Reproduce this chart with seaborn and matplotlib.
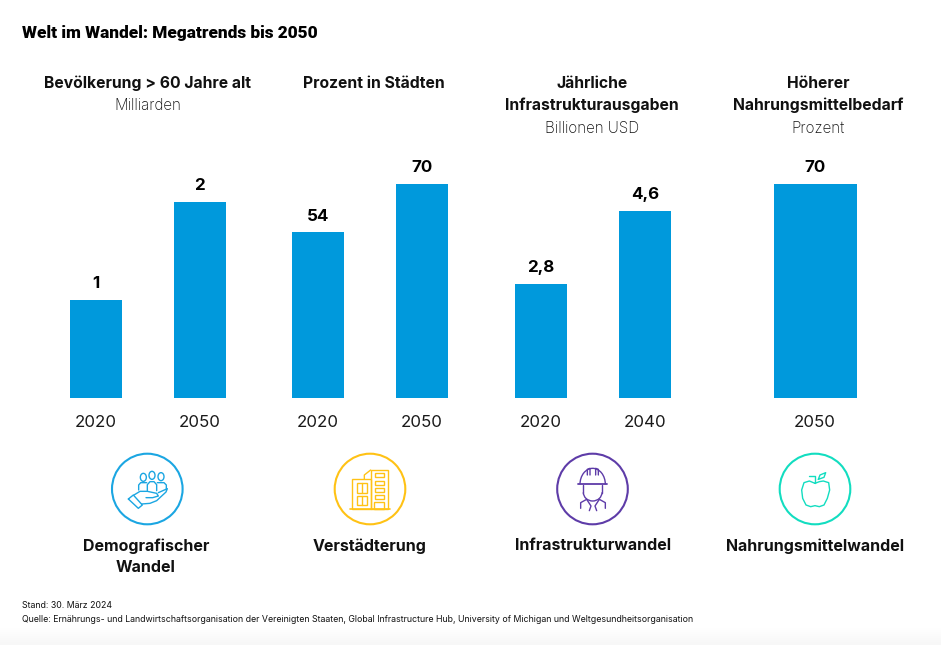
# -*- coding: utf-8 -*-
import numpy as np
import matplotlib.pyplot as plt
from matplotlib.patches import Circle, Ellipse, Rectangle, Arc
import seaborn as sns

W, H = 941, 645
BLUE = "#0099DC"
BASE = 397.5  # pixel row of the bar baseline

# data
years_demo = ["2020", "2050"]
values_demo = [1, 2]
labels_demo = ["1", "2"]
years_city = ["2020", "2050"]
values_city = [54, 70]
labels_city = ["54", "70"]
years_infra = ["2020", "2040"]
values_infra = [2.8, 4.6]
labels_infra = ["2,8", "4,6"]
years_food = ["2050"]
values_food = [70]
labels_food = ["70"]

headers = [
    (148, ["Bevölkerung > 60 Jahre alt"], "Milliarden"),
    (374, ["Prozent in Städten"], None),
    (592, ["Jährliche", "Infrastrukturausgaben"], "Billionen USD"),
    (818.5, ["Höherer", "Nahrungsmittelbedarf"], "Prozent"),
]
themes = [
    (146, ["Demografischer", "Wandel"]),
    (370, ["Verstädterung"]),
    (593, ["Infrastrukturwandel"]),
    (815, ["Nahrungsmittelwandel"]),
]
title = "Welt im Wandel: Megatrends bis 2050"
stand = "Stand: 30. März 2024"
quelle = ("Quelle: Ernährungs- und Landwirtschaftsorganisation der Vereinigten Staaten, "
          "Global Infrastructure Hub, University of Michigan und Weltgesundheitsorganisation")

sns.set_theme(style="white")
plt.rcParams["font.family"] = ["Inter", "DejaVu Sans"]

fig = plt.figure(figsize=(W / 100, H / 100), dpi=100, facecolor="white")


def add_panel(left, width, years, values, labels, px_per_unit):
    # one bar group, the axes top sits 230 px above the baseline
    height = 230
    ax = fig.add_axes([left / W, 1 - BASE / H, width / W, height / H])
    sns.barplot(x=years, y=values, color=BLUE, saturation=1, width=0.5, linewidth=0, ax=ax)
    ax.set_xlim(-0.5, len(years) - 0.5)
    ax.set_ylim(0, height / px_per_unit)
    ax.bar_label(ax.containers[0], labels=labels, padding=6.2, fontsize=12.2,
                 fontweight="bold", color="black")
    ax.tick_params(axis="x", length=0, pad=12.5, labelsize=12.2, labelcolor="#1a1a1a")
    ax.set_yticks([])
    ax.patch.set_alpha(0)
    sns.despine(ax=ax, left=True, bottom=True)
    return ax


add_panel(43.6, 208.4, years_demo, values_demo, labels_demo, 98)
add_panel(265.8, 208.4, years_city, values_city, labels_city, 3.057)
add_panel(488.8, 208.4, years_infra, values_infra, labels_infra, 40.65)
add_panel(732, 166, years_food, values_food, labels_food, 3.057)

# overlay in pixel coordinates for text and icons
ov = fig.add_axes([0, 0, 1, 1], zorder=-1)
ov.set_xlim(0, W)
ov.set_ylim(H, 0)
ov.axis("off")

# faint grey fade at the very bottom of the page
fade = np.linspace(1, 0.965, 20).reshape(-1, 1)
ov.imshow(fade, extent=(0, W, H, H - 20), cmap="gray", vmin=0, vmax=1, aspect="auto")
ov.set_xlim(0, W)
ov.set_ylim(H, 0)

ov.text(22, 33, title, fontsize=12.42, fontweight=900, family="Roboto",
        color="black", va="center", ha="left")

for cx, bold_lines, sub in headers:
    y = 83
    for line in bold_lines:
        ov.text(cx, y, line, fontsize=11.3, fontweight="bold", ha="center", va="center", color="#111111")
        y += 22.7
    if sub:
        ov.text(cx, y, sub, fontsize=10.9, ha="center", va="center", color="#111111", fontweight="light")

for cx, lines in themes:
    y = 546
    for line in lines:
        ov.text(cx, y, line, fontsize=11.5, fontweight="bold", ha="center", va="center", color="#111111")
        y += 21

ov.text(22, 605.5, stand, fontsize=6.33, va="center", color="#111111")
ov.text(22, 619.5, quelle, fontsize=6.33, va="center", color="#111111")


# icons, coordinates taken from 3x crops of the picture
def icon_line(xs, ys, ox, oy, color, lw=1.0):
    ov.plot(np.array(xs) / 3 + ox, np.array(ys) / 3 + oy, color=color, lw=lw,
            solid_capstyle="round", solid_joinstyle="round")


def icon_rect(x, y, w, h, ox, oy, color, lw=1.0):
    ov.add_patch(Rectangle((x / 3 + ox, y / 3 + oy), w / 3, h / 3, fill=False, ec=color, lw=lw))


def icon_ellipse(x, y, w, h, ox, oy, color, lw=1.0):
    ov.add_patch(Ellipse((x / 3 + ox, y / 3 + oy), w / 3, h / 3, fill=False, ec=color, lw=lw))


def icon_arc(x, y, w, h, t1, t2, ox, oy, color, lw=1.0):
    ov.add_patch(Arc((x / 3 + ox, y / 3 + oy), w / 3, h / 3, theta1=t1, theta2=t2, ec=color, lw=lw))


C1, C2, C3, C4 = "#1BA6E2", "#FFC215", "#5E3CA8", "#12DDC0"
for cx, col in [(147.3, C1), (370, C2), (592.5, C3), (815, C4)]:
    ov.add_patch(Circle((cx, 489), 35.3, fill=False, ec=col, lw=1.5))

# people in a hand
ox, oy = 90, 440
for hx, hy in [(160, 112), (186, 106), (213, 110)]:
    icon_ellipse(hx, hy, 18, 24, ox, oy, C1)
icon_line([146, 146, 152, 170], [150, 135, 128, 128], ox, oy, C1)
icon_line([172, 172, 180, 192, 200, 200], [152, 134, 125, 125, 134, 152], ox, oy, C1)
icon_line([202, 222, 229, 229], [128, 128, 135, 150], ox, oy, C1)
icon_line([115, 130, 157, 145, 115], [177, 165, 195, 205, 177], ox, oy, C1)
icon_line([132, 150, 172, 200, 205, 188, 168], [165, 154, 154, 160, 168, 173, 173], ox, oy, C1)
icon_line([205, 232, 228, 200, 180, 155], [158, 146, 156, 182, 190, 192], ox, oy, C1)

# buildings
icon_rect(787, 117, 55, 90, ox, oy, C2)
icon_rect(842, 90, 53, 117, ox, oy, C2)
icon_line([823, 823, 842], [117, 105, 90], ox, oy, C2)
icon_line([780, 900], [207, 207], ox, oy, C2, lw=1.2)
for wy in [100, 122, 143, 165]:
    icon_rect(855, wy, 27, 12, ox, oy, C2)
icon_rect(853, 187, 30, 20, ox, oy, C2)
for wy in [130, 167]:
    icon_rect(802, wy, 28, 28, ox, oy, C2)
    icon_line([816, 816], [wy, wy + 28], ox, oy, C2)

# worker with helmet (y axis is flipped, so 180-360 is the upper half)
ox, oy = 530, 440
icon_arc(188, 133, 76, 96, 180, 360, ox, oy, C3)
icon_line([145, 232], [133, 133], ox, oy, C3, lw=1.3)
icon_line([172, 172, 180, 180], [105, 88, 85, 105], ox, oy, C3)
icon_line([197, 197, 205, 205], [105, 85, 88, 105], ox, oy, C3)
icon_line([160, 160], [135, 158], ox, oy, C3)
icon_line([216, 216], [135, 158], ox, oy, C3)
icon_arc(188, 157, 56, 52, 0, 180, ox, oy, C3)
icon_line([152, 152, 170, 183, 178], [205, 188, 178, 198, 212], ox, oy, C3)
icon_line([226, 226, 208, 195, 200], [205, 188, 178, 198, 212], ox, oy, C3)

# apple
icon_line([838, 855, 855], [108, 108, 130], ox, oy, C4)
icon_line([865, 870, 887, 882, 865], [118, 105, 98, 112, 118], ox, oy, C4)
icon_line([855, 838, 822, 815, 818, 828, 842, 855, 868, 882, 892, 899, 896, 880, 868, 855],
          [130, 123, 128, 150, 175, 195, 200, 197, 200, 195, 175, 150, 128, 123, 125, 130], ox, oy, C4)

fig.savefig("out.png", dpi=100, facecolor="white")
